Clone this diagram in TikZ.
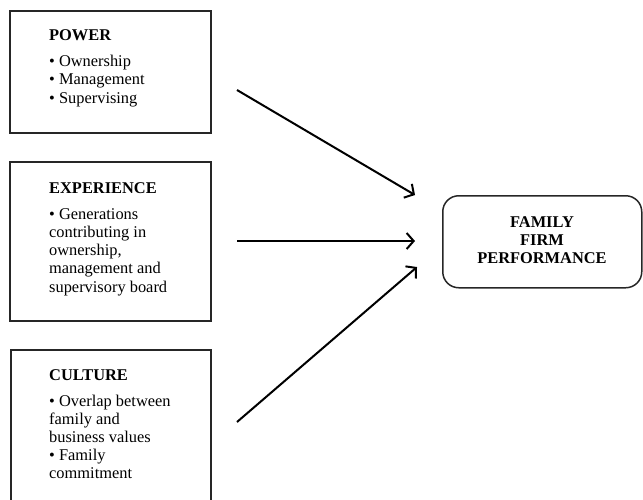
\documentclass[tikz,border=0pt]{standalone}
\usepackage{fontspec}
\setmainfont{Liberation Serif}
\usetikzlibrary{arrows.meta}
\begin{document}
\begin{tikzpicture}[x=1pt,y=-1pt,
  box/.style={draw=black!85, line width=1.5pt, rectangle, inner sep=0, anchor=north west},
  txt/.style={anchor=base west, inner sep=0, font=\fontsize{16.4}{18.2}\selectfont},
  arr/.style={line width=2pt, -{Straight Barb[length=7pt,width=16pt,line width=2pt]}}]
\useasboundingbox (0,0) rectangle (643,499);
% boxes
\node[box, minimum width=201pt, minimum height=122pt] (powerbox) at (9,10) {};
\node[box, minimum width=201pt, minimum height=159pt] (expbox) at (9,161) {};
\node[box, minimum width=200pt, minimum height=170pt] (cultbox) at (10,349) {};
\node[box, rounded corners=16pt, minimum width=199pt, minimum height=92pt] (perfbox) at (442,195) {};
% texts
\node[txt] (powertxt) at (49,40.7) {\begin{tabular}[t]{@{}l@{}}\textbf{POWER}\\[7.8pt] • Ownership\\ • Management\\ • Supervising\end{tabular}};
\node[txt] (exptxt) at (49,193.3) {\begin{tabular}[t]{@{}l@{}}\textbf{EXPERIENCE}\\[7.8pt] • Generations\\ contributing in\\ ownership,\\ management and\\ supervisory board\end{tabular}};
\node[txt] (culttxt) at (49,380) {\begin{tabular}[t]{@{}l@{}}\textbf{CULTURE}\\[7.8pt] • Overlap between\\ family and\\ business values\\ • Family\\ commitment\end{tabular}};
\node[txt, anchor=base] (perftxt) at (542,227.3) {\begin{tabular}[t]{@{}c@{}}\textbf{FAMILY}\\ \textbf{FIRM}\\ \textbf{PERFORMANCE}\end{tabular}};
% arrows
\coordinate (a1s) at (237,90);
\coordinate (a1e) at (415,195);
\coordinate (a2s) at (237,241);
\coordinate (a2e) at (415,241);
\coordinate (a3s) at (237,422);
\coordinate (a3e) at (417,267);
\draw[arr] (a1s) -- (a1e);
\draw[arr] (a2s) -- (a2e);
\draw[arr] (a3s) -- (a3e);
\end{tikzpicture}
\end{document}
